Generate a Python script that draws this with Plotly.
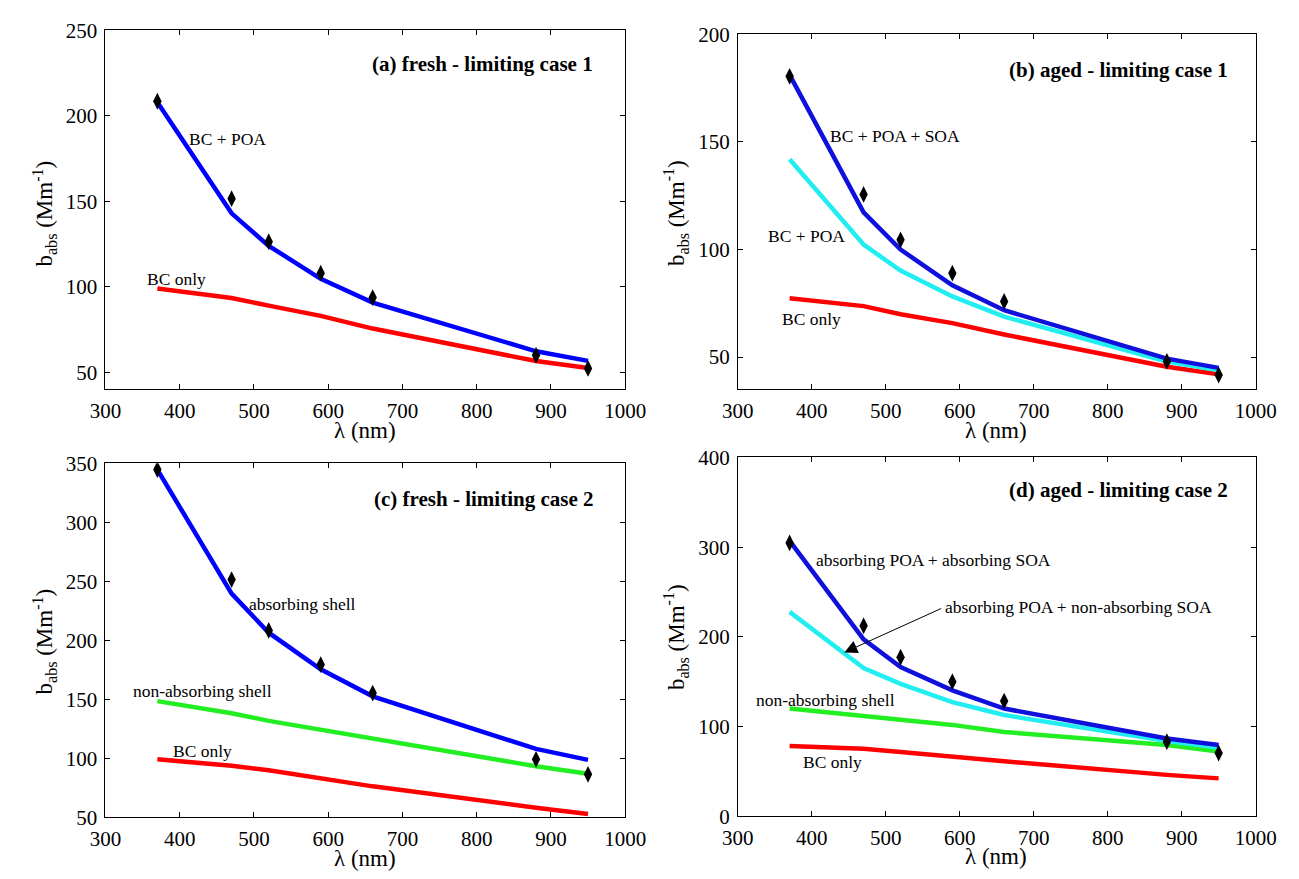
import plotly.graph_objects as go

wl = [370, 470, 520, 590, 660, 880, 950]

# (a) fresh - limiting case 1
a_meas = [208.6, 151.6, 126.4, 108.0, 93.7, 60.0, 52.3]
a_bcpoa = [208.0, 143.0, 124.0, 104.7, 90.8, 62.3, 56.7]
a_bc = [99.0, 93.5, 89.0, 83.0, 75.6, 56.6, 52.5]

# (b) aged - limiting case 1
b_meas = [180.5, 125.6, 104.5, 89.0, 75.9, 48.0, 41.7]
b_bcpoasoa = [181.2, 117.3, 100.0, 83.4, 71.8, 49.3, 45.0]
b_bcpoa = [142.0, 102.3, 90.2, 78.2, 68.8, 48.0, 43.9]
b_bc = [77.4, 73.7, 69.9, 65.8, 60.5, 45.5, 42.0]

# (c) fresh - limiting case 2
c_meas = [344.7, 251.5, 208.4, 179.5, 155.3, 99.2, 86.5]
c_abs = [344.7, 239.6, 206.5, 175.5, 152.6, 108.0, 98.7]
c_nonabs = [148.5, 138.3, 131.8, 124.3, 117.5, 93.3, 87.0]
c_bc = [99.2, 93.8, 90.0, 83.3, 76.3, 58.2, 52.8]

# (d) aged - limiting case 2
d_meas = [304.8, 212.5, 177.4, 150.2, 128.5, 83.3, 70.6]
d_abs_abs = [307.0, 197.3, 166.5, 140.5, 120.2, 86.9, 79.6]
d_abs_nonabs = [228.0, 165.4, 147.7, 127.4, 113.0, 84.0, 76.7]
d_nonabs = [120.2, 112.2, 107.9, 102.0, 94.1, 79.6, 72.4]
d_bc = [78.6, 75.3, 71.7, 67.0, 61.5, 46.3, 42.4]

x_ticks = [300, 400, 500, 600, 700, 800, 900, 1000]

FONT = "Liberation Serif"
BLUE = "#0000ff"
BLUE2 = "#1010dd"
CYAN = "#22eef2"
GREEN = "#22ee22"
RED = "#ff0000"
LW = 4.5

fig = go.Figure()

def line(x, y, color, ax):
    fig.add_trace(go.Scatter(x=x, y=y, mode="lines", line=dict(color=color, width=LW),
                             xaxis="x" + ax, yaxis="y" + ax, showlegend=False))

def meas(x, y, ax):
    fig.add_trace(go.Scatter(x=x, y=y, mode="markers",
                             marker=dict(symbol="diamond-tall", size=12, color="black"),
                             xaxis="x" + ax, yaxis="y" + ax, showlegend=False))

# panel a
line(wl, a_bc, RED, "")
line(wl, a_bcpoa, BLUE, "")
meas(wl, a_meas, "")
# panel b
line(wl, b_bc, RED, "2")
line(wl, b_bcpoa, CYAN, "2")
line(wl, b_bcpoasoa, BLUE2, "2")
meas(wl, b_meas, "2")
# panel c
line(wl, c_bc, RED, "3")
line(wl, c_nonabs, GREEN, "3")
line(wl, c_abs, BLUE, "3")
meas(wl, c_meas, "3")
# panel d
line(wl, d_bc, RED, "4")
line(wl, d_nonabs, GREEN, "4")
line(wl, d_abs_nonabs, CYAN, "4")
line(wl, d_abs_abs, BLUE2, "4")
meas(wl, d_meas, "4")

W, H = 1299, 879

def px_x(a, b):
    return [a / W, b / W]

def px_y(top, bot):
    return [1 - bot / H, 1 - top / H]

axis_common = dict(showline=True, linecolor="black", linewidth=1, mirror="ticks",
                   ticks="inside", ticklen=5, tickcolor="black", showgrid=False,
                   zeroline=False, tickfont=dict(family=FONT, size=21, color="black"))

def xax(dom, anchor):
    return dict(domain=dom, range=[300, 1000], tickvals=x_ticks, anchor=anchor,
                ticklabelstandoff=2, **axis_common)

def yax(dom, anchor, rng, tv):
    return dict(domain=dom, range=rng, tickvals=tv, anchor=anchor,
                ticklabelstandoff=3, **axis_common)

fig.update_layout(
    width=W, height=H, margin=dict(l=0, r=0, t=0, b=0),
    paper_bgcolor="white", plot_bgcolor="white", showlegend=False,
    xaxis=xax(px_x(92, 627), "y"),
    yaxis=yax(px_y(19, 388), "x", [40, 250], [50, 100, 150, 200, 250]),
    xaxis2=xax(px_x(743, 1276), "y2"),
    yaxis2=yax(px_y(23, 388), "x2", [35, 200], [50, 100, 150, 200]),
    xaxis3=xax(px_x(92, 627), "y3"),
    yaxis3=yax(px_y(464, 828), "x3", [50, 350], [50, 100, 150, 200, 250, 300, 350]),
    xaxis4=xax(px_x(743, 1276), "y4"),
    yaxis4=yax(px_y(458, 827), "x4", [0, 400], [0, 100, 200, 300, 400]),
)

ann = []
def txt(ax, x, y, s, size=17.5, bold=False, xanchor="center"):
    ann.append(dict(xref="x" + ax, yref="y" + ax, x=x, y=y, text=("<b>%s</b>" % s) if bold else s,
                    showarrow=False, xanchor=xanchor, yanchor="middle",
                    font=dict(family=FONT, size=size, color="black")))

# panel titles
txt("", 960, 230.4, "(a) fresh - limiting case 1", 21, True, "right")
txt("2", 965, 183.5, "(b) aged - limiting case 1", 21, True, "right")
txt("3", 960, 319.7, "(c) fresh - limiting case 2", 21, True, "right")
txt("4", 965, 364, "(d) aged - limiting case 2", 21, True, "right")

# curve labels
txt("", 465, 186.7, "BC + POA")
txt("", 396, 104.7, "BC only")
txt("2", 512, 152.7, "BC + POA + SOA")
txt("2", 393, 106.4, "BC + POA")
txt("2", 400, 67.6, "BC only")
txt("3", 566, 230.7, "absorbing shell")
txt("3", 431, 157, "non-absorbing shell")
txt("3", 431, 106, "BC only")
txt("4", 564, 286, "absorbing POA + absorbing SOA")
txt("4", 760, 233.5, "absorbing POA + non-absorbing SOA")
txt("4", 419, 130.3, "non-absorbing shell")
txt("4", 428, 60.8, "BC only")

# arrow in panel d
ann.append(dict(xref="x4", yref="y4", axref="x4", ayref="y4", x=444, y=182.8, ax=577, ay=232.5,
                text="", showarrow=True, arrowhead=2, arrowsize=2.6, arrowwidth=1, arrowcolor="black"))

# axis titles
ytitle = "b<sub>abs</sub> (Mm<sup>-1</sup>)"
for (xp, yp) in [(29, 207), (679, 207), (29, 647), (679, 643)]:
    ann.append(dict(xref="paper", yref="paper", x=xp / W, y=1 - yp / H, text=ytitle, textangle=-90,
                    showarrow=False, xanchor="center", yanchor="middle",
                    font=dict(family=FONT, size=23, color="black")))
for (xp, yp) in [(359, 430), (1009, 430), (359, 870), (1009, 868)]:
    ann.append(dict(xref="paper", yref="paper", x=xp / W, y=1 - yp / H, text="λ (nm)",
                    showarrow=False, xanchor="center", yanchor="middle",
                    font=dict(family=FONT, size=23, color="black")))

fig.update_layout(annotations=ann)

fig.write_html("out.html", config={"displayModeBar": False},
               post_script="document.body.style.margin='0';document.body.style.overflow='hidden';")
